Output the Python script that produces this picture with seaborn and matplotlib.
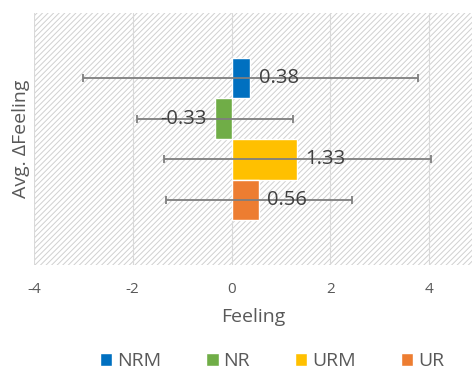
import matplotlib.pyplot as plt
import seaborn as sns
import pandas as pd
from matplotlib.patches import Rectangle

groups = ['NRM', 'NR', 'URM', 'UR']
means = [0.38, -0.33, 1.33, 0.56]
errs = [3.39, 1.58, 2.70, 1.88]
category = 'Avg. ΔFeeling'
colors = ['#0070C0', '#70AD47', '#FFC000', '#ED7D31']

df = pd.DataFrame({'group': groups, 'value': means, 'err': errs, 'cat': category})

sns.set_style('white')
plt.rcParams['font.family'] = ['Open Sans', 'DejaVu Sans']
plt.rcParams['axes.unicode_minus'] = False
plt.rcParams['hatch.linewidth'] = 0.7
plt.rcParams['hatch.color'] = '#d0d0d0'

fig = plt.figure(figsize=(4.72, 3.76), dpi=100)
ax = fig.add_axes([0.072, 0.295, 0.928, 0.67])

# hatched plot-area background
ax.add_patch(Rectangle((0, 0), 1, 1, transform=ax.transAxes, facecolor='white',
                       hatch='//////', edgecolor='#d0d0d0', linewidth=0, zorder=0))

sns.barplot(data=df, x='value', y='cat', hue='group', hue_order=groups,
            palette=colors, orient='h', width=0.8, saturation=1,
            errorbar=None, legend=True, ax=ax, zorder=3)

# error bars at the bar centres
for cont, e in zip(ax.containers, errs):
    for p in cont:
        yc = p.get_y() + p.get_height() / 2
        ax.errorbar(p.get_width(), yc, xerr=e, color='#7f7f7f', lw=1.3,
                    capsize=3, capthick=1.3, zorder=4)
    ax.bar_label(cont, fmt='%.2f', padding=6, fontsize=14.5, color='#404040', zorder=5)

ax.set_xlim(-4, 4.87)
ax.set_ylim(0.62, -0.62)
ax.set_xticks([-4, -2, 0, 2, 4])
ax.set_yticks([])
ax.grid(axis='x', color='#d9d9d9', lw=0.8, zorder=1)
ax.set_axisbelow(True)
for s in ax.spines.values():
    s.set_visible(False)
ax.tick_params(axis='x', length=0, labelsize=11, labelcolor='#595959', pad=12)
ax.set_xlabel('Feeling', fontsize=14, color='#595959', labelpad=8)
ax.set_ylabel(category, fontsize=14, color='#595959', labelpad=3)

handles, labels = ax.get_legend_handles_labels()
ax.get_legend().remove()
fig.legend(handles, labels, loc='center', bbox_to_anchor=(0.576, 0.04), ncol=4,
           frameon=False, fontsize=14, handlelength=0.65, handleheight=0.65,
           handletextpad=0.25, columnspacing=2.3, labelcolor='#595959')

fig.savefig('out.png', dpi=100)
